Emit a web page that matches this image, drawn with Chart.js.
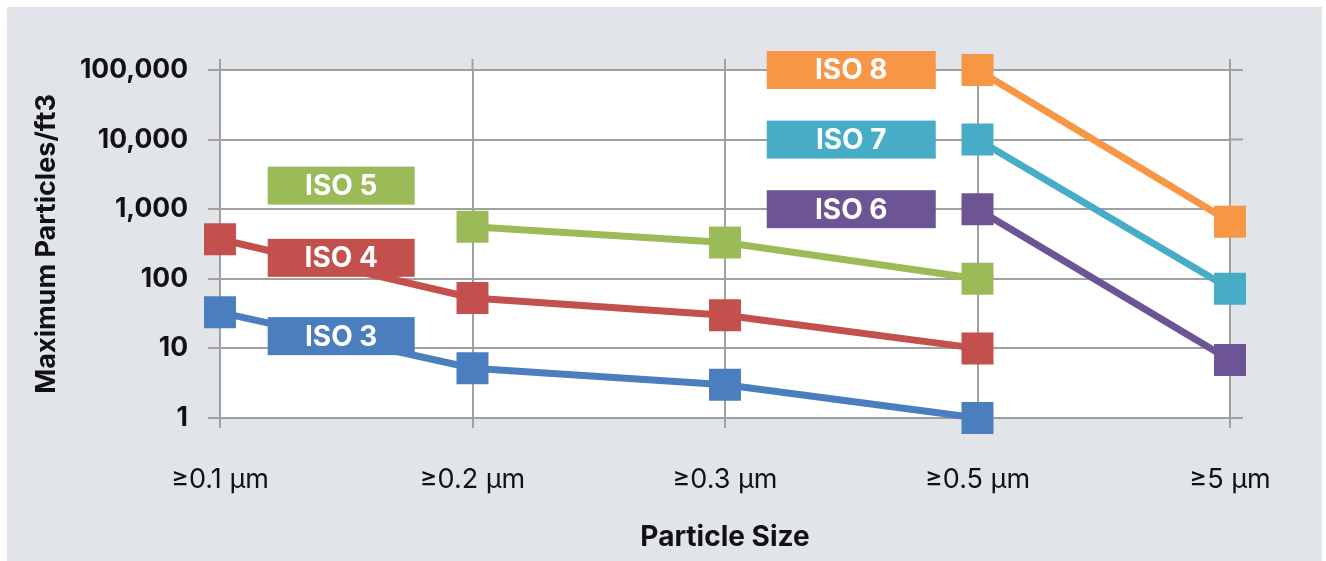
<!DOCTYPE html>
<html>
<head>
<meta charset="utf-8">
<script src="https://cdn.jsdelivr.net/npm/chart.js@4.4.0/dist/chart.umd.min.js"></script>
<style>
  html, body { margin: 0; padding: 0; background: #ffffff; }
  #wrap { position: absolute; left: 7px; top: 7px; width: 1315px; height: 554px; background: #e1e4e9; }
</style>
</head>
<body>
<div id="wrap"><canvas id="chart"></canvas></div>
<script>
const categories = ['≥0.1 µm', '≥0.2 µm', '≥0.3 µm', '≥0.5 µm', '≥5 µm'];
const yTickValues = [1, 10, 100, 1000, 10000, 100000];

const iso3 = [33, 5.2, 3, 1, null];
const iso4 = [370, 53, 30, 10, null];
const iso5 = [null, 560, 333, 100, null];
const iso6 = [null, null, null, 1000, 6.8];
const iso7 = [null, null, null, 10000, 72];
const iso8 = [null, null, null, 100000, 660];

const seriesNames = ['ISO 3', 'ISO 4', 'ISO 5', 'ISO 6', 'ISO 7', 'ISO 8'];
const seriesColors = ['#4a7ebe', '#c3504c', '#9bbb58', '#6d5494', '#47adc7', '#f79645'];

// label boxes: x in category units, y in data units
const labelBoxes = [
  { name: 'ISO 5', x: 0.48, y: 2180, w: 147 },
  { name: 'ISO 4', x: 0.48, y: 200, w: 147 },
  { name: 'ISO 3', x: 0.48, y: 15, w: 147 },
  { name: 'ISO 8', x: 2.5, y: 100000, w: 169 },
  { name: 'ISO 7', x: 2.5, y: 10000, w: 169 },
  { name: 'ISO 6', x: 2.5, y: 1000, w: 169 }
];

const gridColor = '#a0a0a0';
const fontFamily = 'Inter, "Open Sans", sans-serif';

const makeSet = (name, data) => {
    const color = seriesColors[seriesNames.indexOf(name)];
    return {
        label: name,
        data: data,
        borderColor: color,
        backgroundColor: color,
        borderWidth: 7,
        pointStyle: 'rect',
        pointRadius: 22.6,
        pointHoverRadius: 22.6,
        pointBorderWidth: 0,
        spanGaps: false,
        clip: false
    };
};

const plotBackground = {
    id: 'plotBackground',
    beforeDraw(chart) {
        const { ctx, chartArea: a } = chart;
        ctx.save();
        ctx.fillStyle = '#ffffff';
        ctx.fillRect(a.left, a.top, a.right - a.left, a.bottom - a.top);
        ctx.restore();
    },
    beforeDatasetsDraw(chart) {
        // grid lines run a little past the top and right of the plot
        const { ctx, chartArea: a, scales } = chart;
        ctx.save();
        ctx.strokeStyle = gridColor;
        ctx.lineWidth = 2;
        ctx.beginPath();
        categories.forEach((c, i) => {
            const x = scales.x.getPixelForValue(i);
            ctx.moveTo(x, a.top - 11);
            ctx.lineTo(x, a.top);
        });
        yTickValues.forEach(v => {
            const y = scales.y.getPixelForValue(v);
            ctx.moveTo(a.right, y);
            ctx.lineTo(a.right + 13, y);
        });
        ctx.stroke();
        ctx.restore();
    }
};

const boxLabels = {
    id: 'boxLabels',
    afterDatasetsDraw(chart) {
        const { ctx, scales } = chart;
        ctx.save();
        ctx.font = 'bold 28px ' + fontFamily;
        ctx.textAlign = 'center';
        ctx.textBaseline = 'middle';
        labelBoxes.forEach(b => {
            const cx = scales.x.getPixelForValue(0) + b.x * (scales.x.getPixelForValue(1) - scales.x.getPixelForValue(0));
            const cy = scales.y.getPixelForValue(b.y);
            ctx.fillStyle = seriesColors[seriesNames.indexOf(b.name)];
            ctx.fillRect(cx - b.w / 2, cy - 19, b.w, 38);
            ctx.fillStyle = '#ffffff';
            ctx.fillText(b.name, cx, cy + 1);
        });
        ctx.restore();
    }
};

new Chart(document.getElementById('chart'), {
    type: 'line',
    data: {
        labels: categories,
        datasets: [
            makeSet('ISO 3', iso3),
            makeSet('ISO 4', iso4),
            makeSet('ISO 5', iso5),
            makeSet('ISO 6', iso6),
            makeSet('ISO 7', iso7),
            makeSet('ISO 8', iso8)
        ]
    },
    options: {
        responsive: true,
        maintainAspectRatio: false,
        animation: false,
        layout: { padding: { top: 63, right: 92, left: 0, bottom: 0 } },
        plugins: {
            legend: { display: false },
            title: { display: false },
            tooltip: { enabled: false }
        },
        scales: {
            x: {
                type: 'category',
                offset: false,
                afterFit: (scale) => { scale.height = 143; },
                grid: { color: gridColor, lineWidth: 2, tickLength: 10, drawTicks: true },
                border: { display: false },
                ticks: {
                    color: '#111111',
                    padding: 36,
                    maxRotation: 0,
                    font: { family: fontFamily, size: 27, weight: 'normal' }
                },
                title: {
                    display: true,
                    text: 'Particle Size',
                    color: '#111111',
                    padding: { top: 0, bottom: 7 },
                    font: { family: fontFamily, size: 28, weight: 'bold' }
                }
            },
            y: {
                type: 'logarithmic',
                min: 1,
                max: 100000,
                afterFit: (scale) => { scale.width = 213; },
                afterBuildTicks: (scale) => { scale.ticks = yTickValues.map(v => ({ value: v })); },
                grid: { color: gridColor, lineWidth: 2, tickLength: 12 },
                border: { display: false },
                ticks: {
                    color: '#111111',
                    padding: 20,
                    font: { family: fontFamily, size: 26.5, weight: 'bold' },
                    callback: (v) => Number(v).toLocaleString('en-US')
                },
                title: {
                    display: true,
                    text: 'Maximum Particles/ft3',
                    color: '#111111',
                    padding: { top: 24, bottom: 0 },
                    font: { family: fontFamily, size: 27, weight: 'bold' }
                }
            }
        }
    },
    plugins: [plotBackground, boxLabels]
});
</script>
</body>
</html>
